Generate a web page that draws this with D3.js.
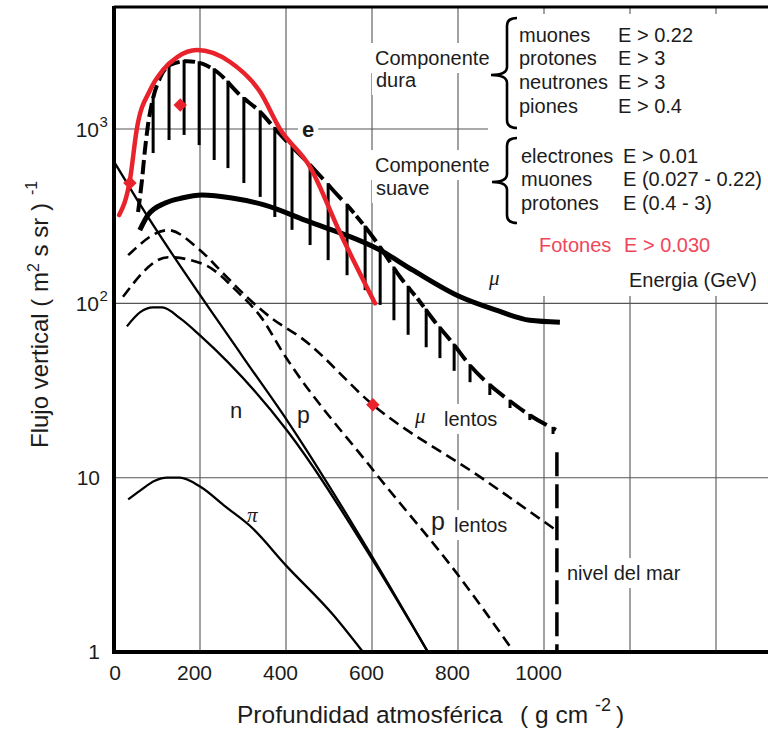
<!DOCTYPE html>
<html><head><meta charset="utf-8">
<script src="https://cdn.jsdelivr.net/npm/d3@7"></script>
<style>
html,body{margin:0;padding:0;background:#fff;}
svg{display:block;font-family:"Liberation Sans",Arial,sans-serif;}
text{white-space:pre;}
</style></head><body>
<svg id="c" width="768" height="731"></svg>
<script>
// ---------------- DATA ----------------
const xTickValues = [0, 200, 400, 600, 800, 1000];
const xGridValues = [200, 400, 600, 800, 1000, 1200, 1400];
const yGridValues = [10, 100, 1000];
const yTickValues = [1, 10, 100, 1000];
const yTickBase = ["1", "10", "10", "10"];
const yTickExp = ["", "", "2", "3"];

// [profundidad g/cm2, flujo]
const fotones = [[12,321],[37,509],[53,1000],[84,1675],[114,2183],[147,2588],[193,2838],[270,2424],[340,1630],[386,1000],[456,605],[526,253],[607,100]];
const electrones = [[56,334],[65,509],[72,759],[79,1054],[91,1507],[107,1963],[130,2330],[170,2450],[205,2370],[240,2124],[293,1567],[340,1252],[379,975],[467,582],[509,447],[556,334],[595,253],[619,210],[665,142],[705,107],[747,78],[788,59],[828,44],[874,34],[921,27.5],[967,22.8],[1030,18.7]];
const muones = [[60,263],[79,321],[119,376],[158,402],[205,418],[274,402],[351,366],[444,300],[619,202],[695,155],[805,109],[891,91],[967,80],[1037,78]];
const muLentos = [[33,189],[126,263],[195,207],[258,145],[312,107],[367,82],[437,63],[602,26.2],[854,10],[1023,5.1]];
const pLentos = [[21,109],[126,184],[212,166],[288,116],[344,82],[391,53],[602,11.1],[798,2.81],[930,1]];
const neutrones = [[30,73.8],[61,89],[91,94.8],[112,94.8],[154,82],[200,65.5],[402,18.7],[602,3.35],[730,1]];
const protones = [[2,638],[54,392],[300,49.2],[402,21.4],[602,3.47],[730,1]];
const piones = [[33,7.5],[60,8.4],[95,9.6],[123,10],[153,10],[200,8.9],[260,6.8],[316,5.3],[402,3.1],[509,1.64],[579,1]];
const hatchX = [91,128,163,198,233,265,302,340,374,414,456,498,542,584,619,651,684,726,758,791,828,874,921,967,1021];
const hatchLow = [728,865,925,809,664,597,490,408,313,264,216,177,145,119,98,80,66,56,48.5,41,35.3,29.8,25.1,21.4,17.8];
const diamantes = [[37,490],[154,1373],[602,26.2]];
const nivelMar = [[1030,14],[1030,1]];

const dura = ["muones","protones","neutrones","piones"];
const duraE = ["E > 0.22","E > 3","E > 3","E > 0.4"];
const suave = ["electrones","muones","protones"];
const suaveE = ["E > 0.01","E (0.027 - 0.22)","E (0.4 - 3)"];

// ---------------- LAYOUT ----------------
const W = 768, H = 731;
const x = d3.scaleLinear().domain([0, 1520]).range([114, 767.6]);
const y = d3.scaleLog().domain([1, Math.pow(10, 3.7)]).range([652, 7]);
const TXT = "#1c1c1c", RED = "#e8232b";

const svg = d3.select("#c");
const gGrid = svg.append("g");
const gBg = svg.append("g");
const gMarks = svg.append("g");
const gText = svg.append("g");
const gAxis = svg.append("g");

function bgFor(el, pad) {
  const b = el.node().getBBox();
  gBg.append("rect").attr("x", b.x - pad).attr("y", b.y - pad)
    .attr("width", b.width + 2 * pad).attr("height", b.height + 2 * pad).attr("fill", "#fff");
}
function label(parent, t, px, py, opt = {}) {
  const el = parent.append("text").attr("x", px).attr("y", py).text(t)
    .attr("font-size", opt.size || 20).attr("fill", opt.fill || TXT)
    .attr("text-anchor", opt.anchor || "start");
  if (opt.family) el.attr("font-family", opt.family);
  if (opt.italic) el.attr("font-style", "italic");
  if (opt.weight) el.attr("font-weight", opt.weight);
  if (opt.bg !== false) bgFor(el, opt.pad || 4);
  return el;
}

// grid
gGrid.selectAll("line.gx").data(xGridValues).join("line").attr("class", "gx")
  .attr("x1", d => x(d)).attr("x2", d => x(d)).attr("y1", 7).attr("y2", 652)
  .attr("stroke", "#555").attr("stroke-width", 1.1);
gGrid.selectAll("line.gy").data(yGridValues).join("line").attr("class", "gy")
  .attr("x1", 114).attr("x2", W).attr("y1", d => y(d)).attr("y2", d => y(d))
  .attr("stroke", "#555").attr("stroke-width", 1.1);

// curves
const line = d3.line().x(d => x(d[0])).y(d => y(d[1])).curve(d3.curveMonotoneX);
function curve(data, w, dash) {
  const p = gMarks.append("path").attr("d", line(data)).attr("fill", "none")
    .attr("stroke", "#000").attr("stroke-width", w).attr("stroke-linejoin", "round");
  if (dash) p.attr("stroke-dasharray", dash);
  return p;
}
curve(pLentos, 2.6, "11,6");
curve(muLentos, 2.6, "11,6");
curve(neutrones, 2.3);
curve(protones, 2.3);
curve(piones, 2.3);
curve(muones, 5);
const eP = curve(electrones, 4);

// electron curve: dashes aligned to the hatch tops
const node = eP.node(), L = node.getTotalLength(), samples = [];
for (let l = 0; l <= L; l += 0.5) { const p = node.getPointAtLength(l); samples.push({x: p.x, y: p.y, l}); }
function nearest(px) {
  let best = samples[0];
  for (const s of samples) if (Math.abs(s.x - px) < Math.abs(best.x - px)) best = s;
  return best;
}
const hatchPts = hatchX.map(v => nearest(x(v)));
{
  const bounds = [0, ...hatchPts.map(p => p.l), L];
  const dash = [];
  for (let i = 0; i < bounds.length - 1; i++) {
    const s = bounds[i + 1] - bounds[i];
    if (s <= 0.5) continue;
    const n = Math.max(1, Math.round(s / 19));
    const u = s / n;
    for (let k = 0; k < n; k++) { dash.push(u * 0.72, u * 0.28); }
  }
  eP.attr("stroke-dasharray", dash.map(v => v.toFixed(2)).join(","));
}
gMarks.selectAll("line.h").data(hatchX).join("line").attr("class", "h")
  .attr("x1", d => x(d)).attr("x2", d => x(d))
  .attr("y1", (d, i) => hatchPts[i].y - 1.5).attr("y2", (d, i) => y(hatchLow[i]))
  .attr("stroke", "#000").attr("stroke-width", 3);

// sea level
gMarks.append("line").attr("x1", x(nivelMar[0][0])).attr("x2", x(nivelMar[1][0]))
  .attr("y1", y(nivelMar[0][1])).attr("y2", y(nivelMar[1][1]))
  .attr("stroke", "#000").attr("stroke-width", 3.5).attr("stroke-dasharray", "24,8");

// photons
gMarks.append("path").attr("d", line(fotones)).attr("fill", "none")
  .attr("stroke", RED).attr("stroke-width", 4.5).attr("stroke-linecap", "round");
gMarks.selectAll("path.dm").data(diamantes).join("path").attr("class", "dm")
  .attr("d", d3.symbol().type(d3.symbolSquare).size(90))
  .attr("transform", d => `translate(${x(d[0])},${y(d[1])}) rotate(45)`)
  .attr("fill", RED);

// axes frame
gAxis.append("line").attr("x1", 114).attr("x2", W).attr("y1", 7).attr("y2", 7).attr("stroke", "#000").attr("stroke-width", 3);
gAxis.append("line").attr("x1", 114).attr("x2", 114).attr("y1", 6).attr("y2", 654).attr("stroke", "#000").attr("stroke-width", 4);
gAxis.append("line").attr("x1", 112).attr("x2", W).attr("y1", 652).attr("y2", 652).attr("stroke", "#000").attr("stroke-width", 4);

// x tick labels
xTickValues.forEach(v => {
  label(gAxis, String(v), x(v) + (v === 0 ? 1 : -5.5), 680, {size: 21, anchor: "middle", bg: false});
});
// y tick labels
yTickValues.forEach((v, i) => {
  if (yTickExp[i]) {
    label(gAxis, yTickBase[i], 99, y(v) + 7.5, {size: 21, anchor: "end", bg: false});
    label(gAxis, yTickExp[i], 99.5, y(v) - 2, {size: 15, bg: false});
  } else {
    label(gAxis, yTickBase[i], 100, y(v) + 7, {size: 21, anchor: "end", bg: false});
  }
});

// axis titles
label(gAxis, "Profundidad atmosférica", 237, 723, {size: 24.5, bg: false});
label(gAxis, "( g cm", 520, 723, {size: 24.5, bg: false});
label(gAxis, "-2", 595, 711, {size: 18, bg: false});
label(gAxis, ")", 616, 723, {size: 24.5, bg: false});

const yt = gAxis.append("text").attr("transform", "translate(48,448) rotate(-90)")
  .attr("font-size", 24).attr("fill", TXT);
yt.append("tspan").text("Flujo vertical ( m");
yt.append("tspan").attr("dy", -9).attr("font-size", 16).text("2");
yt.append("tspan").attr("dy", 9).text(" s sr )");
yt.append("tspan").attr("dx", 8).attr("dy", -11).attr("font-size", 16).text("-1");

// curve labels
const SERIF = "'Liberation Serif','DejaVu Serif',serif";
label(gText, "e", 302, 137, {size: 22, weight: "bold"});
label(gText, "n", 230, 418, {size: 22});
label(gText, "p", 297, 423, {size: 23});
label(gText, "π", 247, 522, {size: 21, family: SERIF, italic: true});
label(gText, "μ", 489, 285, {size: 21, family: SERIF, italic: true, bg: false});
label(gText, "μ", 415, 423, {size: 21, family: SERIF, italic: true});
label(gText, "lentos", 444, 426, {size: 20});
label(gText, "p", 431, 530, {size: 25});
label(gText, "lentos", 454, 532, {size: 20});
label(gText, "nivel del mar", 567, 580, {size: 20});

label(gText, "Componente", 375, 65, {size: 20});
label(gText, "dura", 376, 87, {size: 20});
label(gText, "Componente", 375, 172, {size: 20});
label(gText, "suave", 376, 195, {size: 20});

// right block (legend of energies)
const gBlock = gText.append("g");
const bl1 = [42, 65, 89, 113], bl2 = [163, 186, 210];
dura.forEach((t, i) => { label(gBlock, t, 519, bl1[i], {bg: false}); label(gBlock, duraE[i], 618, bl1[i], {bg: false}); });
suave.forEach((t, i) => { label(gBlock, t, 521, bl2[i], {bg: false}); label(gBlock, suaveE[i], 623, bl2[i], {bg: false}); });
label(gBlock, "Fotones", 539, 252, {fill: "#f0465a", bg: false});
label(gBlock, "E > 0.030", 624, 252, {fill: "#f0465a", bg: false});
label(gBlock, "Energia (GeV)", 629, 287, {bg: false});

function brace(sx, top, bot, tipX, tipY) {
  const r = 8;
  return `M${sx + 10},${top} Q${sx},${top} ${sx},${top + r} L${sx},${tipY - r} Q${sx},${tipY} ${tipX},${tipY} ` +
         `Q${sx},${tipY} ${sx},${tipY + r} L${sx},${bot - r} Q${sx},${bot} ${sx + 10},${bot}`;
}
gBlock.append("path").attr("d", brace(507, 18, 128, 491, 75)).attr("fill", "none").attr("stroke", "#000").attr("stroke-width", 2.6);
gBlock.append("path").attr("d", brace(507, 138, 223, 492, 182)).attr("fill", "none").attr("stroke", "#000").attr("stroke-width", 2.6);
{
  const b = gBlock.node().getBBox();
  gBg.append("rect").attr("x", b.x - 3).attr("y", b.y - 4).attr("width", W - b.x + 3)
    .attr("height", b.height + 9).attr("fill", "#fff");
}
</script>
</body></html>
